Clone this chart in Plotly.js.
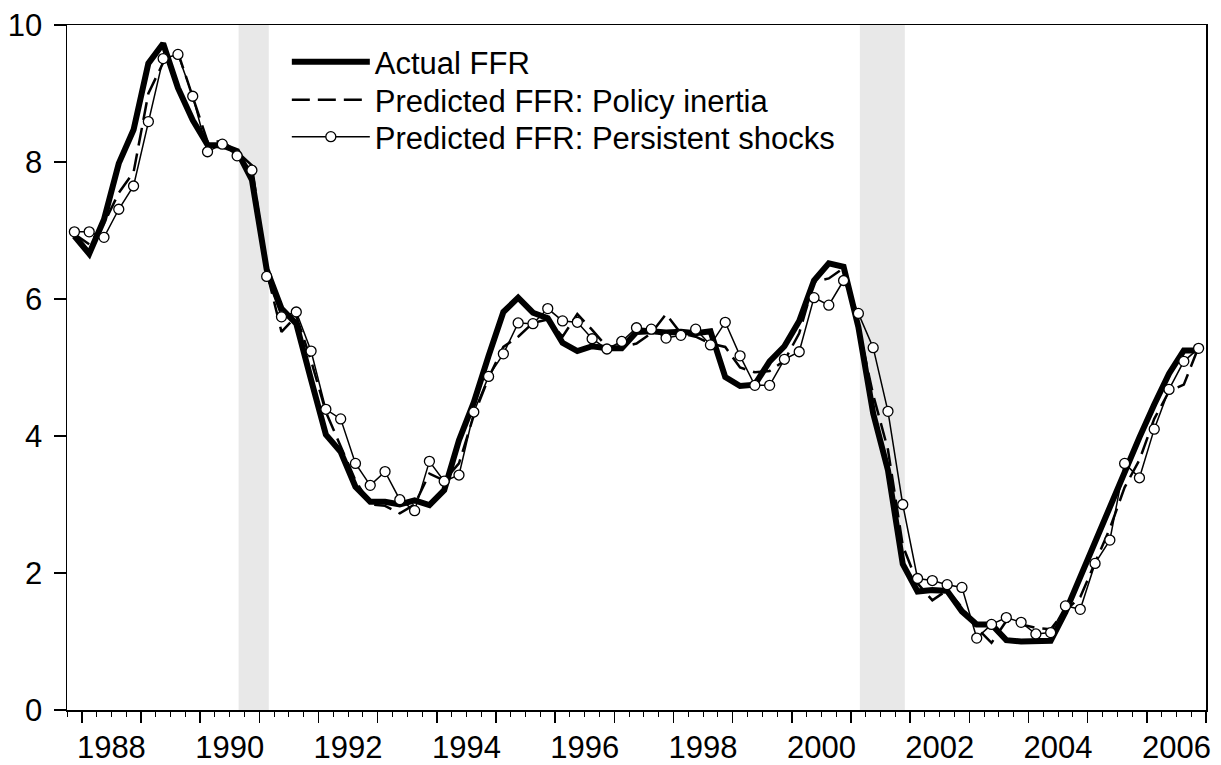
<!DOCTYPE html>
<html>
<head>
<meta charset="utf-8">
<script src="https://cdn.plot.ly/plotly-3.0.1.min.js"></script>
<style>html,body{margin:0;padding:0;background:#fff;}#chart{width:1221px;height:765px;}</style>
</head>
<body>
<div id="chart"></div>
<script>
// Quarterly observations, 1987Q4 .. 2006Q4
const quarters = [
  "1987Q4",
  "1988Q1","1988Q2","1988Q3","1988Q4","1989Q1","1989Q2","1989Q3","1989Q4",
  "1990Q1","1990Q2","1990Q3","1990Q4","1991Q1","1991Q2","1991Q3","1991Q4",
  "1992Q1","1992Q2","1992Q3","1992Q4","1993Q1","1993Q2","1993Q3","1993Q4",
  "1994Q1","1994Q2","1994Q3","1994Q4","1995Q1","1995Q2","1995Q3","1995Q4",
  "1996Q1","1996Q2","1996Q3","1996Q4","1997Q1","1997Q2","1997Q3","1997Q4",
  "1998Q1","1998Q2","1998Q3","1998Q4","1999Q1","1999Q2","1999Q3","1999Q4",
  "2000Q1","2000Q2","2000Q3","2000Q4","2001Q1","2001Q2","2001Q3","2001Q4",
  "2002Q1","2002Q2","2002Q3","2002Q4","2003Q1","2003Q2","2003Q3","2003Q4",
  "2004Q1","2004Q2","2004Q3","2004Q4","2005Q1","2005Q2","2005Q3","2005Q4",
  "2006Q1","2006Q2","2006Q3","2006Q4"
];

const actualFFR = [
  6.92,
  6.66,7.16,7.98,8.47, 9.44,9.73,9.08,8.61,
  8.25,8.24,8.16,7.74, 6.43,5.86,5.64,4.82,
  4.02,3.77,3.26,3.04, 3.04,3.00,3.06,2.99,
  3.21,3.94,4.49,5.17, 5.81,6.02,5.80,5.72,
  5.36,5.24,5.31,5.28, 5.28,5.52,5.53,5.51,
  5.52,5.50,5.53,4.86, 4.73,4.75,5.09,5.31,
  5.68,6.27,6.52,6.47, 5.59,4.33,3.50,2.13,
  1.73,1.75,1.74,1.44, 1.25,1.25,1.02,1.00,
  1.00,1.01,1.43,1.95, 2.47,2.94,3.46,3.98,
  4.46,4.91,5.25,5.25
];

const policyInertia = [
  6.95,
  6.80,7.10,7.55,7.85, 9.00,9.45,9.60,8.95,
  8.30,8.30,8.15,7.95, 6.40,5.52,5.75,5.10,
  4.35,3.85,3.35,3.00, 2.98,2.87,3.00,3.45,
  3.35,3.60,4.30,4.85, 5.30,5.45,5.65,5.70,
  5.45,5.78,5.55,5.30, 5.30,5.35,5.50,5.78,
  5.50,5.45,5.35,5.30, 5.00,4.93,4.95,5.10,
  5.50,6.25,6.30,6.45, 5.60,4.60,3.80,2.40,
  1.85,1.60,1.75,1.50, 1.20,0.98,1.30,1.25,
  1.20,1.18,1.45,1.65, 2.15,2.65,3.25,3.65,
  4.25,4.65,4.75,5.30
];

const persistentShocks = [
  6.98,
  6.98,6.90,7.31,7.65, 8.59,9.51,9.57,8.96,
  8.15,8.26,8.09,7.88, 6.33,5.74,5.81,5.24,
  4.39,4.25,3.60,3.28, 3.48,3.07,2.91,3.63,
  3.34,3.43,4.35,4.87, 5.20,5.65,5.64,5.86,
  5.68,5.66,5.42,5.27, 5.38,5.58,5.56,5.43,
  5.47,5.56,5.33,5.66, 5.17,4.74,4.74,5.12,
  5.23,6.02,5.91,6.27, 5.79,5.29,4.36,3.00,
  1.92,1.89,1.83,1.79, 1.05,1.25,1.35,1.28,
  1.11,1.13,1.52,1.47, 2.14,2.48,3.60,3.39,
  4.10,4.68,5.09,5.28
];

// Recession bands (decimal years)
const recessionStart = [1990.65, 2001.15];
const recessionEnd   = [1991.16, 2001.91];

const yearLabels = ["1988","1990","1992","1994","1996","1998","2000","2002","2004","2006"];

// Map quarter label to the middle of the quarter in decimal years
const xPos = quarters.map(q => {
  const yr = parseInt(q.slice(0,4), 10);
  const qn = parseInt(q.slice(5), 10);
  return yr + (qn - 1) / 4 + 0.125;
});
const labelPos = yearLabels.map(y => parseInt(y, 10) + 0.5);

const FONT = "Liberation Sans, Arial, Helvetica, sans-serif";
const XRANGE = [1987.75, 2007.0];

const traces = [
  {
    x: xPos, y: actualFFR, name: "Actual FFR", type: "scatter", mode: "lines",
    line: {color: "#000", width: 6}, legend: "legend"
  },
  {
    x: xPos, y: policyInertia, name: "Predicted FFR: Policy inertia", type: "scatter", mode: "lines",
    line: {color: "#000", width: 2.5, dash: "18px,8px"}, legend: "legend2"
  },
  {
    x: xPos, y: persistentShocks, name: "Predicted FFR: Persistent shocks", type: "scatter", mode: "lines+markers",
    line: {color: "#000", width: 1.5},
    marker: {symbol: "circle", size: 10, color: "#fff", line: {color: "#000", width: 1.3}},
    legend: "legend3"
  }
];

const shapes = recessionStart.map((s, i) => ({
  type: "rect", xref: "x", yref: "paper", x0: s, x1: recessionEnd[i], y0: 0, y1: 1,
  fillcolor: "#e8e8e8", line: {width: 0}, layer: "below"
}));

function legendAt(yc) {
  return {
    x: 0.193, xanchor: "left", y: yc, yanchor: "middle",
    bgcolor: "rgba(0,0,0,0)", borderwidth: 0,
    font: {family: FONT, size: 31, color: "#000"},
    itemwidth: 78, tracegroupgap: 0
  };
}

const layout = {
  width: 1221, height: 765,
  margin: {l: 67, r: 15, t: 25, b: 55, pad: 0},
  paper_bgcolor: "#fff", plot_bgcolor: "#fff",
  font: {family: FONT, size: 31, color: "#000"},
  showlegend: true,
  legend: legendAt(0.946),
  legend2: legendAt(0.8905),
  legend3: legendAt(0.8365),
  xaxis: {
    range: XRANGE, showgrid: false, zeroline: false,
    showline: true, mirror: true, linecolor: "#000", linewidth: 1.5,
    ticks: "outside", tick0: 1988, dtick: 1, ticklen: 11, tickwidth: 1.5, tickcolor: "#000",
    showticklabels: false,
    minor: {ticks: "outside", tick0: 1987.75, dtick: 0.25, ticklen: 5, tickwidth: 1, tickcolor: "#000", showgrid: false}
  },
  xaxis2: {
    overlaying: "x", anchor: "y", side: "bottom", range: XRANGE,
    showgrid: false, zeroline: false, showline: false,
    tickmode: "array", tickvals: labelPos, ticktext: yearLabels,
    ticks: "outside", ticklen: 10, tickcolor: "rgba(0,0,0,0)",
    tickfont: {family: FONT, size: 31, color: "#000"}
  },
  yaxis: {
    range: [0, 10], tick0: 0, dtick: 2, showgrid: false, zeroline: false,
    showline: true, mirror: true, linecolor: "#000", linewidth: 1.5,
    ticks: "outside", ticklen: 12, tickwidth: 1.5, tickcolor: "#000",
    tickfont: {family: FONT, size: 31, color: "#000"},
    ticklabelstandoff: 5
  },
  shapes: shapes
};

// helper trace so that the label axis (x2) is drawn
traces.push({x: [XRANGE[0]], y: [null], xaxis: "x2", yaxis: "y", showlegend: false, hoverinfo: "skip", type: "scatter", mode: "lines"});

Plotly.newPlot("chart", traces, layout, {displayModeBar: false, staticPlot: true});
</script>
</body>
</html>
